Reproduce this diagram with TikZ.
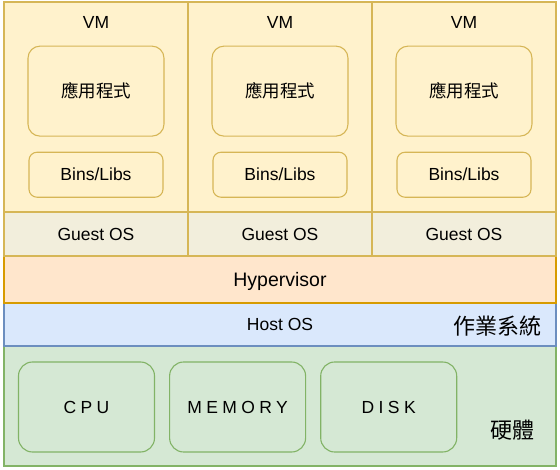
\documentclass[tikz,border=0pt]{standalone}
\usepackage{fontspec}
\setmainfont{Liberation Sans}
\newfontfamily\cjk{Noto Sans CJK TC}
\newfontfamily\spaced[LetterSpace=25]{Liberation Sans}
\usetikzlibrary{positioning}

\definecolor{vmfill}{HTML}{FFF2CC}
\definecolor{vmline}{HTML}{D6B656}
\definecolor{guestfill}{HTML}{F2EEDC}
\definecolor{hyperfill}{HTML}{FFE6CC}
\definecolor{hyperline}{HTML}{D79B00}
\definecolor{hostfill}{HTML}{DAE8FC}
\definecolor{hostline}{HTML}{6C8EBF}
\definecolor{hwfill}{HTML}{D5E8D4}
\definecolor{hwline}{HTML}{82B366}

\begin{document}
\begin{tikzpicture}[
  x=1pt, y=-1pt,
  line width=1.1pt,
  every node/.style={font=\fontsize{17.5}{21}\selectfont, inner sep=0pt},
  layer/.style={draw, rectangle, minimum width=552pt},
  vm/.style={draw=vmline, fill=vmfill, minimum width=184pt, minimum height=254pt},
  guest/.style={draw=vmline, fill=guestfill, minimum width=184pt, minimum height=44pt},
  appbox/.style={draw=vmline, fill=vmfill, rounded corners=12pt,
    minimum width=136pt, minimum height=90pt},
  libbox/.style={draw=vmline, fill=vmfill, rounded corners=8pt,
    minimum width=134pt, minimum height=45pt},
  hwbox/.style={draw=hwline, fill=hwfill, rounded corners=14pt,
    minimum width=136pt, minimum height=90pt, font=\fontsize{17.5}{21}\spaced},
  bigtext/.style={font=\fontsize{22}{26}\cjk},
  ]
  \useasboundingbox (0,0) rectangle (560,470);

  % layers
  \node [layer, draw=hwline, fill=hwfill, minimum height=120pt] (hw) at (280,406) {};
  \node [layer, draw=hostline, fill=hostfill, minimum height=43pt] (host) at (280,324.5) {Host OS};
  \node [layer, draw=hyperline, fill=hyperfill, minimum height=47pt, text depth=0pt] (hyper) at (280,279.5) {\fontsize{19.5}{23}\selectfont Hypervisor};

  % virtual machines
  \node [vm] (vm1) at (96,129) {};
  \node [vm] (vm2) at (280,129) {};
  \node [vm] (vm3) at (464,129) {};
  \node [guest] (vm1-guest) at (96,234) {Guest OS};
  \node [guest] (vm2-guest) at (280,234) {Guest OS};
  \node [guest] (vm3-guest) at (464,234) {Guest OS};

  \node (vm1-name) at (96,22) {VM};
  \node (vm2-name) at (280,22) {VM};
  \node (vm3-name) at (464,22) {VM};

  \node [appbox, below=17pt of vm1-name] (vm1-app) {\cjk 應用程式};
  \node [appbox, below=17pt of vm2-name] (vm2-app) {\cjk 應用程式};
  \node [appbox, below=17pt of vm3-name] (vm3-app) {\cjk 應用程式};

  \node [libbox, below=15pt of vm1-app] (vm1-libs) {Bins/Libs};
  \node [libbox, below=15pt of vm2-app] (vm2-libs) {Bins/Libs};
  \node [libbox, below=15pt of vm3-app] (vm3-libs) {Bins/Libs};

  % hardware
  \node [hwbox] (cpu) at (86.5,407) {CPU};
  \node [hwbox, right=14pt of cpu] (memory) {MEMORY};
  \node [hwbox, right=14pt of memory] (disk) {DISK};

  \node [bigtext, anchor=east] (os-label) at (542,326) {作業系統};
  \node [bigtext] (hw-label) at (512,430) {硬體};
\end{tikzpicture}
\end{document}
